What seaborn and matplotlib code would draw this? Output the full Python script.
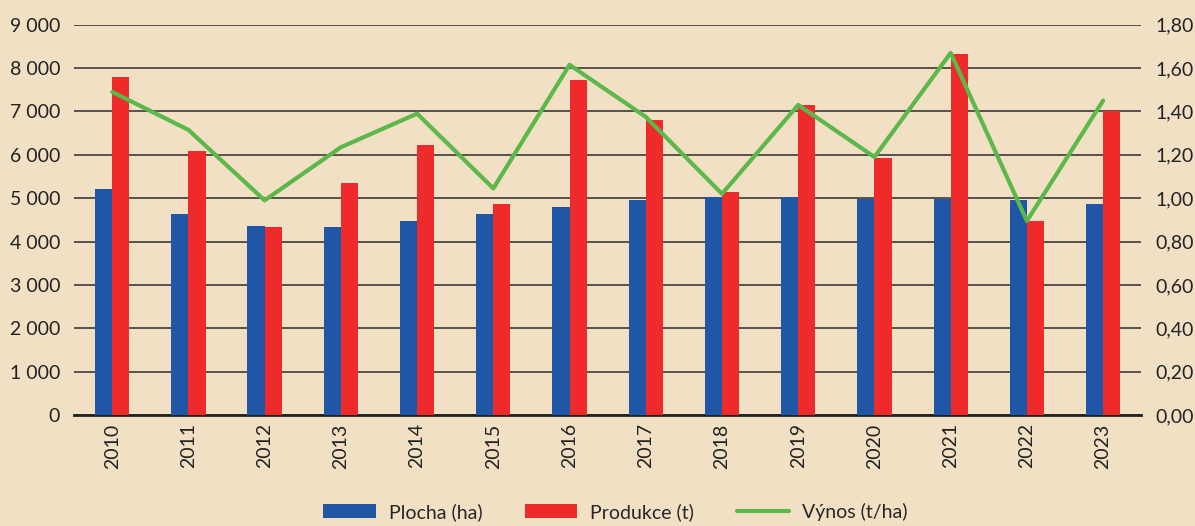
import numpy as np
import pandas as pd
import matplotlib.pyplot as plt
import matplotlib.ticker as mticker
import seaborn as sns

years = ['2010', '2011', '2012', '2013', '2014', '2015', '2016',
         '2017', '2018', '2019', '2020', '2021', '2022', '2023']
plocha = [5220, 4640, 4370, 4330, 4480, 4630, 4790, 4960, 5030, 5020, 4985, 4985, 4955, 4870]
produkce = [7790, 6090, 4340, 5350, 6215, 4860, 7730, 6810, 5140, 7160, 5930, 8320, 4470, 7000]
vynos = [1.49, 1.315, 0.99, 1.235, 1.39, 1.045, 1.615, 1.375, 1.02, 1.43, 1.19, 1.67, 0.895, 1.45]

bg = '#f2e0c4'
blue = '#1f56a5'
red = '#ee2a2a'
green = '#5cb84a'

sns.set_style('white')
plt.rcParams['font.family'] = ['Lato', 'DejaVu Sans']

df = pd.DataFrame({'rok': years * 2,
                   'hodnota': plocha + produkce,
                   'serie': ['Plocha (ha)'] * len(years) + ['Produkce (t)'] * len(years)})

fig, ax = plt.subplots(figsize=(11.95, 5.26), dpi=100)
fig.patch.set_facecolor(bg)
ax.set_facecolor(bg)
fig.subplots_adjust(left=0.062, right=0.955, top=0.953, bottom=0.211)

sns.barplot(data=df, x='rok', y='hodnota', hue='serie', palette=[blue, red],
            width=0.45, gap=0, saturation=1, linewidth=0, ax=ax, zorder=3)
ax.set_ylim(0, 9000)
ax.set_xlim(-0.5, len(years) - 0.5)
ax.yaxis.set_major_locator(mticker.MultipleLocator(1000))
ax.yaxis.set_major_formatter(mticker.FuncFormatter(
    lambda v, p: f'{int(v):,}'.replace(',', ' ')))
ax.grid(axis='y', color='#3c3a38', linewidth=1.2, zorder=0)
ax.set_axisbelow(True)
ax.set_xlabel('')
ax.set_ylabel('')
for s in ['top', 'right', 'left']:
    ax.spines[s].set_visible(False)
ax.spines['bottom'].set_color('#222222')
ax.spines['bottom'].set_linewidth(2)
ax.tick_params(axis='y', length=0, labelsize=14, pad=10, colors='#222222')
ax.tick_params(axis='x', length=0, labelsize=14, pad=6, colors='#222222')
plt.setp(ax.get_xticklabels(), rotation=90)

ax2 = ax.twinx()
sns.lineplot(x=np.arange(len(years)), y=vynos, color=green, linewidth=3,
             ax=ax2, label='Výnos (t/ha)')
ax2.set_ylim(0, 1.8)
ax2.yaxis.set_major_locator(mticker.MultipleLocator(0.2))
ax2.yaxis.set_major_formatter(mticker.FuncFormatter(
    lambda v, p: f'{v:.2f}'.replace('.', ',')))
ax2.tick_params(axis='y', length=0, labelsize=14, pad=10, colors='#222222')
for s in ax2.spines.values():
    s.set_visible(False)
ax2.get_legend().remove()

h1, l1 = ax.get_legend_handles_labels()
h2, l2 = ax2.get_legend_handles_labels()
ax.get_legend().remove()
fig.legend(h1 + h2, l1 + l2, loc='lower center', ncol=3, frameon=False,
           fontsize=14, bbox_to_anchor=(0.515, -0.024), handlelength=2.7,
           handleheight=0.75, handletextpad=0.65, columnspacing=2.2)

fig.savefig('out.png', dpi=100, facecolor=bg)
